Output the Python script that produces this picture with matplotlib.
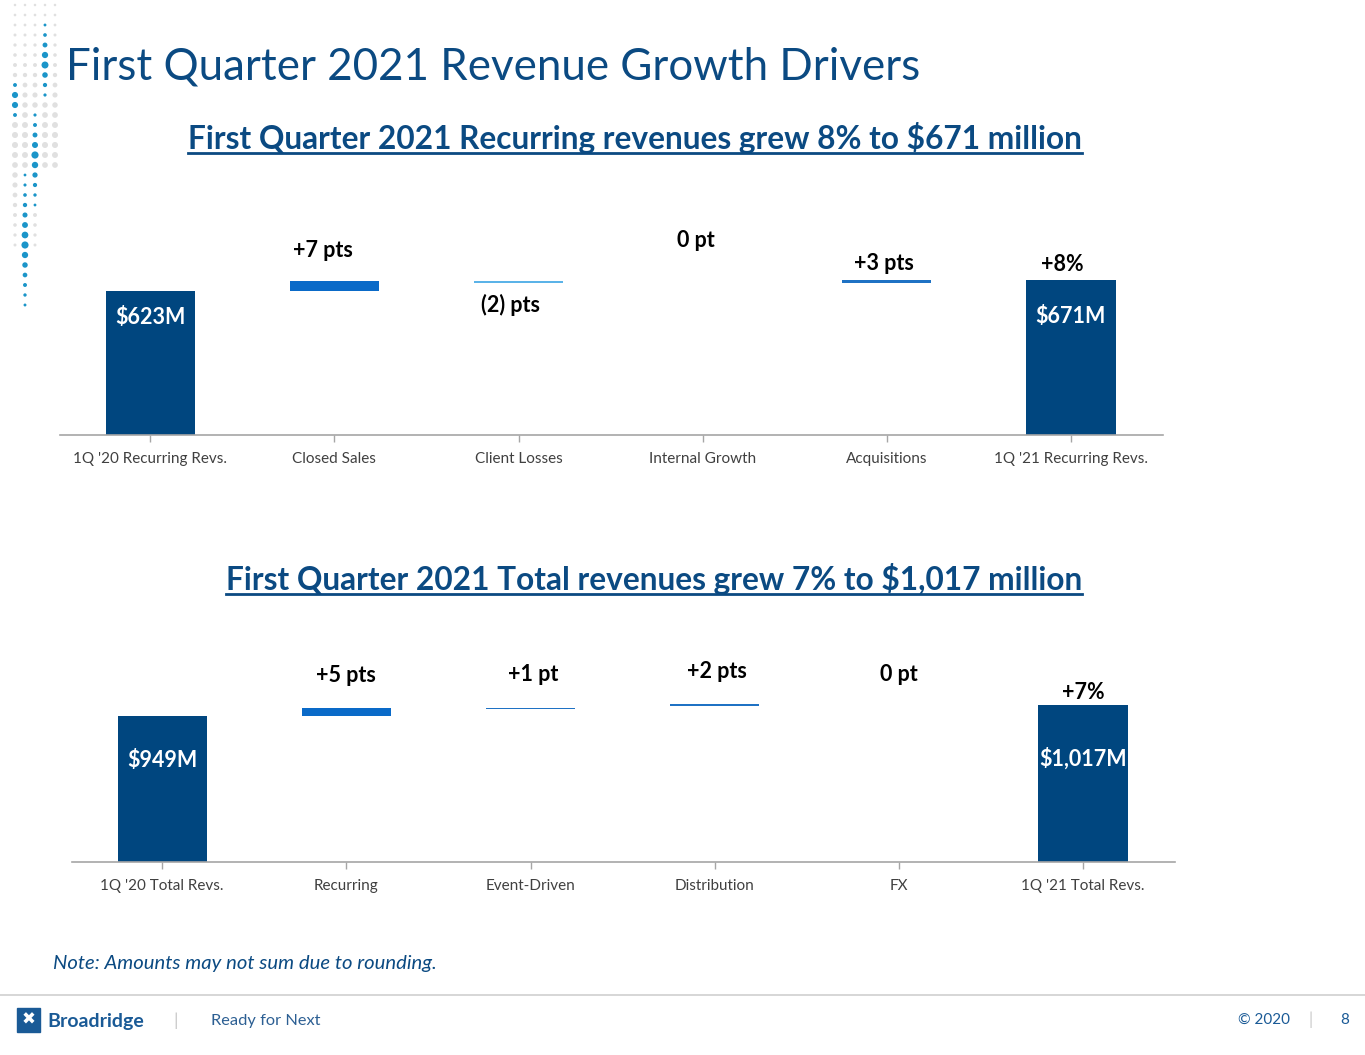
import matplotlib
matplotlib.use("Agg")
import matplotlib.pyplot as plt
import numpy as np
from matplotlib.lines import Line2D
from matplotlib.patches import Rectangle

plt.rcParams["font.family"] = ["Lato", "DejaVu Sans"]

# ---- data (values in $M) ----
rec_categories = ["1Q '20 Recurring Revs.", "Closed Sales", "Client Losses",
                  "Internal Growth", "Acquisitions", "1Q '21 Recurring Revs."]
rec_bottom = [0, 623, 657, 666, 657, 0]
rec_top = [623, 666, 666, 666, 672, 671]
rec_labels = ["$623M", "+7 pts", "(2) pts", "0 pt", "+3 pts", "$671M"]
rec_total_change = "+8%"

tot_categories = ["1Q '20 Total Revs.", "Recurring", "Event-Driven",
                  "Distribution", "FX", "1Q '21 Total Revs."]
tot_bottom = [0, 949, 993, 1013, 1026, 0]
tot_top = [949, 1000, 1002, 1026, 1026, 1017]
tot_labels = ["$949M", "+5 pts", "+1 pt", "+2 pts", "0 pt", "$1,017M"]
tot_total_change = "+7%"

NAVY = "#00467F"
TITLE = "#0B4A82"
GRAY = "#A6A6A6"
FOOT = "#1A5A96"

rec_colors = [NAVY, "#0A6AC8", "#5BB3E8", NAVY, "#1F72C4", NAVY]
tot_colors = [NAVY, "#0A6AC8", "#1F72C4", "#1F72C4", NAVY, NAVY]

# label offsets in points relative to the bar top (styling only)
rec_offsets = [(0, -19), (-8, 22), (-6, -17.5), (-5, 29.5), (-2, 12), (0, -26.5)]
tot_offsets = [(0, -32), (0, 23.5), (2, 24), (2, 23.5), (0, 21.5), (0, -38)]

fig = plt.figure(figsize=(13.65, 10.55), dpi=100)


def waterfall(ax, cats, bottom, top, colors, labels, offsets, change,
              change_off, ymax):
    x = np.arange(len(cats))
    heights = np.array(top) - np.array(bottom)
    ax.bar(x, heights, bottom=bottom, width=0.485, color=colors, zorder=2)
    for i in range(len(cats)):
        is_total = i in (0, len(cats) - 1)
        ax.annotate(labels[i], (x[i], top[i]), xytext=offsets[i],
                    textcoords="offset points", ha="center", va="center",
                    fontsize=15.5, fontweight="bold",
                    color="white" if is_total else "black")
    ax.annotate(change, (x[-1], top[-1]), xytext=change_off,
                textcoords="offset points", ha="center", va="center",
                fontsize=15.5, fontweight="bold", color="black")
    ax.set_xlim(-0.49, 5.5)
    ax.set_ylim(0, ymax)
    ax.set_xticks(x)
    ax.set_xticklabels(cats, fontsize=11, color="#404040")
    ax.tick_params(axis="x", length=5, width=1, color=GRAY, pad=7)
    ax.set_yticks([])
    for s in ("top", "left", "right"):
        ax.spines[s].set_visible(False)
    ax.spines["bottom"].set_color(GRAY)
    ax.spines["bottom"].set_linewidth(1.2)


ax1 = fig.add_axes([60 / 1365, 1 - 435 / 1055, 1103 / 1365, 245 / 1055])
waterfall(ax1, rec_categories, rec_bottom, rec_top, rec_colors, rec_labels,
          rec_offsets, rec_total_change, (-6, 11), 245 / 0.2311)

ax2 = fig.add_axes([72 / 1365, 1 - 862 / 1055, 1103 / 1365, 242 / 1055])
waterfall(ax2, tot_categories, tot_bottom, tot_top, tot_colors, tot_labels,
          tot_offsets, tot_total_change, (0.5, 9), 242 / 0.154)

# titles
fig.text(66 / 1365, 1 - 67 / 1055, "First Quarter 2021 Revenue Growth Drivers",
         fontsize=31.6, color=TITLE, ha="left", va="center")
subs = [
    fig.text(1082 / 1365, 1 - 138 / 1055,
             "First Quarter 2021 Recurring revenues grew 8% to $671 million",
             fontsize=22.8, fontweight="bold", color=TITLE, ha="right", va="center"),
    fig.text(1082 / 1365, 1 - 579 / 1055,
             "First Quarter 2021 Total revenues grew 7% to $1,017 million",
             fontsize=22.8, fontweight="bold", color=TITLE, ha="right", va="center"),
]

# underline the subtitles
fig.canvas.draw()
renderer = fig.canvas.get_renderer()
for t in subs:
    bb = t.get_window_extent(renderer).transformed(fig.transFigure.inverted())
    y = bb.y0 + 1.5 / 1055
    fig.add_artist(Line2D([bb.x0, bb.x1], [y, y], transform=fig.transFigure,
                          color=TITLE, linewidth=2))

fig.text(53 / 1365, 1 - 964 / 1055, "Note: Amounts may not sum due to rounding.",
         fontsize=14.6, style="italic", color=TITLE, ha="left", va="center")

# footer
fig.add_artist(Line2D([0, 1], [1 - 995 / 1055] * 2, transform=fig.transFigure,
                      color="#D0D0D0", linewidth=1.2))
fig.add_artist(Rectangle((17 / 1365, 1 - 1032 / 1055), 23 / 1365, 24 / 1055,
                         transform=fig.transFigure, color=FOOT))
fig.text(28.5 / 1365, 1 - 1020 / 1055, "\u2716", fontsize=12, color="white",
         ha="center", va="center", family=["DejaVu Sans"])
fig.text(47 / 1365, 1 - 1021 / 1055, "Broadridge", fontsize=14,
         fontweight="bold", color=FOOT, ha="left", va="center")
fig.text(176 / 1365, 1 - 1021 / 1055, "|", fontsize=13, color="#C8C8C8",
         ha="center", va="center")
fig.text(211 / 1365, 1 - 1021 / 1055, "Ready for Next", fontsize=11.8,
         color="#2C5F93", ha="left", va="center")
fig.text(1264 / 1365, 1 - 1020 / 1055, "\u00a9 2020", fontsize=11,
         color=FOOT, ha="center", va="center")
fig.text(1311 / 1365, 1 - 1020 / 1055, "|", fontsize=12, color="#C8C8C8",
         ha="center", va="center")
fig.text(1345 / 1365, 1 - 1020 / 1055, "8", fontsize=11,
         color=FOOT, ha="center", va="center")

# dotted decoration, top left corner (overlay axes in pixel units)
deco = fig.add_axes([0, 0, 1, 1], zorder=-1)
deco.set_xlim(0, 1365)
deco.set_ylim(1055, 0)
deco.axis("off")
cols_x = [15, 25, 35, 45, 55]
blue_runs = {15: (80, 120), 25: (175, 310), 35: (108, 205), 45: (25, 100)}
gray_end = {15: 250, 25: 240, 35: 250, 45: 170, 55: 165}
for cx in cols_x:
    bx, by, bs, gx, gy, gs = [], [], [], [], [], []
    for yy in range(5, 315, 10):
        run = blue_runs.get(cx)
        if run and run[0] <= yy <= run[1]:
            mid = (run[0] + run[1]) / 2
            half = (run[1] - run[0]) / 2
            bx.append(cx)
            by.append(yy)
            bs.append(4 + 24 * (1 - abs(yy - mid) / (half + 5)) ** 2)
        elif yy <= gray_end[cx]:
            gx.append(cx)
            gy.append(yy)
            gs.append(3 + 16 * np.exp(-((yy - 140) / 70) ** 2))
    deco.scatter(gx, gy, s=gs, color="#E0E0E0", linewidths=0)
    deco.scatter(bx, by, s=bs, color="#1B95C9", linewidths=0)

fig.savefig("out.png", dpi=100)
